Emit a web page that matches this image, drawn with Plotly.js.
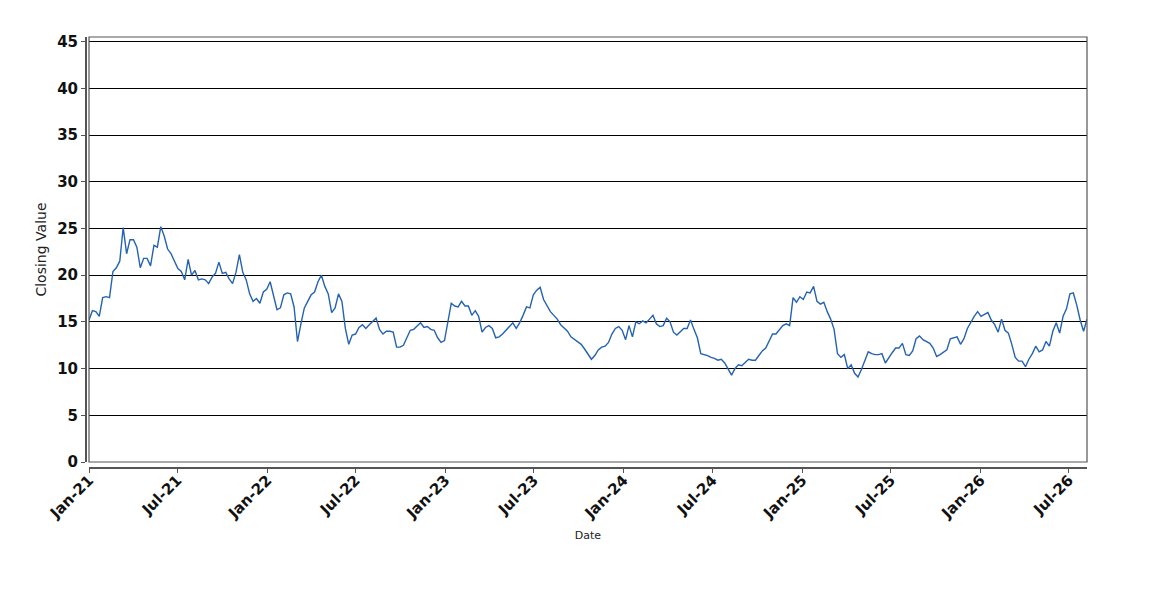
<!DOCTYPE html>
<html>
<head>
<meta charset="utf-8">
<script src="https://cdn.plot.ly/plotly-3.0.1.min.js"></script>
<style>
  html, body { margin: 0; padding: 0; background: #ffffff; }
  #chart { width: 1150px; height: 600px; }
</style>
</head>
<body>
<div id="chart"></div>
<script>
// Weekly closing values (first week starts 2021-01-01)
const startDate = '2021-01-01';
const closingValues = [
    15.2, 16.2, 16.1, 15.6, 17.6, 17.7, 17.6, 20.4, 20.8, 21.5,
    25.1, 22.3, 23.8, 23.8, 23.0, 20.8, 21.8, 21.8, 21.0, 23.2,
    23.0, 25.2, 24.2, 22.8, 22.3, 21.4, 20.7, 20.4, 19.5, 21.7,
    20.0, 20.5, 19.5, 19.6, 19.5, 19.1, 19.8, 20.2, 21.4, 20.2,
    20.3, 19.6, 19.1, 20.3, 22.2, 20.3, 19.5, 18.0, 17.2, 17.5,
    17.0, 18.2, 18.5, 19.3, 17.8, 16.3, 16.5, 17.9, 18.1, 18.0,
    16.6, 12.9, 14.8, 16.5, 17.2, 17.9, 18.2, 19.3, 20.0, 18.8,
    18.0, 16.0, 16.5, 18.0, 17.2, 14.3, 12.6, 13.6, 13.7, 14.4,
    14.7, 14.3, 14.7, 15.1, 15.4, 14.2, 13.7, 14.0, 14.0, 13.9,
    12.3, 12.3, 12.5, 13.3, 14.1, 14.2, 14.5, 14.9, 14.4, 14.5,
    14.2, 14.1, 13.3, 12.8, 13.0, 14.9, 17.0, 16.7, 16.6, 17.2,
    16.7, 16.7, 15.7, 16.2, 15.6, 13.9, 14.4, 14.6, 14.3, 13.3,
    13.4, 13.7, 14.1, 14.5, 14.9, 14.3, 14.9, 15.7, 16.6, 16.5,
    17.9, 18.4, 18.7, 17.4, 16.7, 16.1, 15.7, 15.3, 14.7, 14.4,
    14.0, 13.4, 13.1, 12.9, 12.6, 12.1, 11.5, 11.0, 11.4, 12.0,
    12.3, 12.4, 12.8, 13.7, 14.3, 14.5, 14.1, 13.1, 14.6, 13.4,
    15.0, 14.8, 15.1, 14.9, 15.3, 15.7, 14.8, 14.5, 14.6, 15.4,
    15.0, 13.9, 13.6, 14.0, 14.3, 14.3, 15.2, 14.2, 13.3, 11.6,
    11.5, 11.4, 11.2, 11.1, 10.9, 11.0, 10.6, 10.0, 9.3, 10.0,
    10.4, 10.3, 10.6, 11.0, 10.9, 10.9, 11.4, 11.9, 12.2, 13.0,
    13.7, 13.7, 14.1, 14.6, 14.8, 14.6, 17.6, 17.1, 17.7, 17.4,
    18.2, 18.1, 18.8, 17.2, 16.9, 17.1, 16.1, 15.3, 14.2, 11.6,
    11.2, 11.5, 10.0, 10.4, 9.5, 9.1, 9.9, 10.9, 11.8, 11.6,
    11.5, 11.5, 11.6, 10.6, 11.2, 11.7, 12.2, 12.2, 12.7, 11.5,
    11.4, 11.9, 13.2, 13.5, 13.1, 12.9, 12.7, 12.2, 11.3, 11.5,
    11.8, 12.0, 13.2, 13.3, 13.4, 12.6, 13.2, 14.3, 15.0, 15.6,
    16.1, 15.6, 15.8, 16.0, 15.2, 14.7, 13.9, 15.3, 14.1, 13.8,
    12.6, 11.2, 10.8, 10.8, 10.2, 11.0, 11.6, 12.4, 11.8, 12.0,
    12.9, 12.4, 14.0, 14.9, 13.8, 15.6, 16.4, 18.0, 18.1, 16.8,
    15.2, 14.0, 15.3
];
const yTicks = [0, 5, 10, 15, 20, 25, 30, 35, 40, 45];

function weeklyDates(start, count) {
    const out = [];
    const d0 = new Date(start + 'T00:00:00Z');
    for (let i = 0; i < count; i++) {
        const d = new Date(d0.getTime() + i * 7 * 86400000);
        out.push(d.toISOString().slice(0, 10));
    }
    return out;
}

const dates = weeklyDates(startDate, closingValues.length);

const trace = {
    x: dates,
    y: closingValues,
    type: 'scatter',
    mode: 'lines',
    line: { color: '#2462b2', width: 1.4 },
    hoverinfo: 'x+y'
};

const tickFont = { family: 'DejaVu Sans, sans-serif', size: 15, color: '#111111', weight: 'bold' };

const layout = {
    width: 1150,
    height: 600,
    paper_bgcolor: '#ffffff',
    plot_bgcolor: '#ffffff',
    showlegend: false,
    margin: { l: 85, r: 63, t: 37, b: 133 },
    xaxis: {
        type: 'date',
        domain: [0.004, 1],
        anchor: 'free',
        position: 0,
        range: [dates[0], dates[dates.length - 1]],
        tick0: '2021-01-01',
        dtick: 'M6',
        tickformat: '%b-%y',
        tickangle: -45,
        ticks: 'outside',
        ticklen: 4,
        tickcolor: '#555555',
        ticklabelstandoff: -7,
        showgrid: false,
        zeroline: false,
        showline: true,
        linecolor: '#555555',
        linewidth: 1.5,
        tickfont: tickFont,
        title: {
            text: 'Date',
            font: { family: 'DejaVu Sans, sans-serif', size: 11, color: '#222222' },
            standoff: 9
        }
    },
    yaxis: {
        domain: [0.0116, 1],
        anchor: 'free',
        position: 0,
        range: [0, 45.5],
        tickvals: yTicks,
        ticks: 'outside',
        ticklen: 4,
        tickcolor: '#555555',
        showgrid: true,
        gridcolor: '#000000',
        gridwidth: 1,
        zeroline: false,
        showline: true,
        linecolor: '#555555',
        linewidth: 1.5,
        tickfont: tickFont,
        title: {
            text: 'Closing Value',
            font: { family: 'DejaVu Sans, sans-serif', size: 14, color: '#222222' },
            standoff: 5
        }
    },
    shapes: [{
        type: 'rect',
        xref: 'x domain', yref: 'y domain',
        x0: 0, x1: 1, y0: 0, y1: 1,
        line: { color: '#555555', width: 1.2 },
        fillcolor: 'rgba(0,0,0,0)'
    }]
};

Plotly.newPlot('chart', [trace], layout, { displayModeBar: false, staticPlot: true });
</script>
</body>
</html>
